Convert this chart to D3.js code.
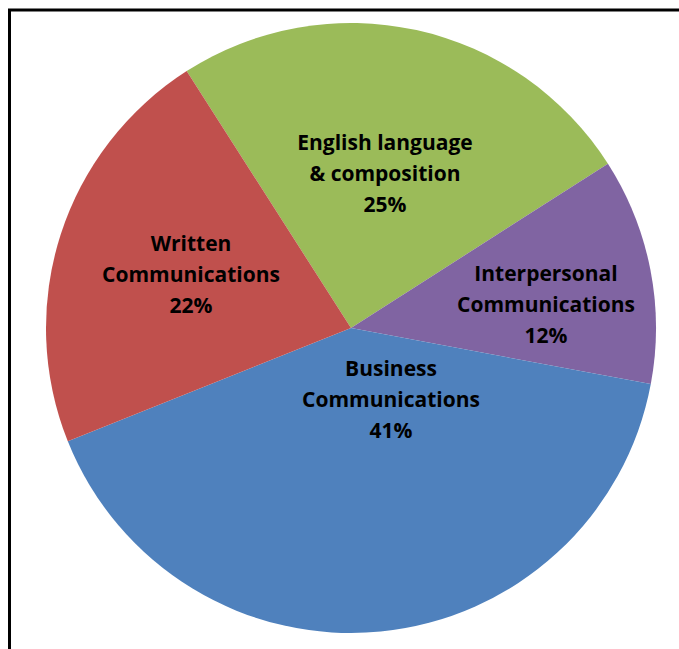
<!DOCTYPE html>
<html>
<head>
<meta charset="utf-8">
<script src="https://cdn.jsdelivr.net/npm/d3@7"></script>
<style>
  body { margin: 0; background: #fff; }
  svg { display: block; }
  .label { font-family: "Open Sans", sans-serif; font-weight: 700; fill: #000; }
</style>
</head>
<body>
<svg id="chart"></svg>
<script>
// Data
const categories = ["English language\n& composition", "Interpersonal\nCommunications", "Business\nCommunications", "Written\nCommunications"]
const values = [25, 12, 41, 22]
const colors = ["#9BBB59", "#8064A2", "#4F81BD", "#C0504D"]

// Layout
const width = 679, height = 649
const cx = 351, cy = 328, radius = 305
const startDeg = -32.6
const lineGap = 31
// label anchor (middle line) relative to pie centre
const labelOffsets = [[34, -147], [195, -16], [40, 79], [-160, -46]]

const svg = d3.select("#chart")
  .attr("width", width)
  .attr("height", height)

// frame (runs off the right and bottom edges)
svg.append("path")
  .attr("d", `M9.5,${height + 5} V10 H${width + 5}`)
  .attr("fill", "none")
  .attr("stroke", "#000")
  .attr("stroke-width", 3)

const start = startDeg * Math.PI / 180
const pie = d3.pie()
  .sort(null)
  .value(d => d)
  .startAngle(start)
  .endAngle(start + 2 * Math.PI)

const arc = d3.arc().innerRadius(0).outerRadius(radius)

const g = svg.append("g").attr("transform", `translate(${cx},${cy})`)

g.selectAll("path")
  .data(pie(values))
  .enter().append("path")
  .attr("d", arc)
  .attr("fill", (d, i) => colors[i])

const labels = g.selectAll("text")
  .data(categories)
  .enter().append("text")
  .attr("class", "label")
  .attr("text-anchor", "middle")
  .attr("font-size", 21)
  .attr("transform", (d, i) => `translate(${labelOffsets[i][0]},${labelOffsets[i][1]})`)

labels.each(function (d, i) {
  const lines = d.split("\n").concat([values[i] + "%"])
  const t = d3.select(this)
  lines.forEach((l, j) => {
    t.append("tspan")
      .attr("x", 0)
      .attr("y", (j - 1) * lineGap)
      .text(l)
  })
})
</script>
</body>
</html>
